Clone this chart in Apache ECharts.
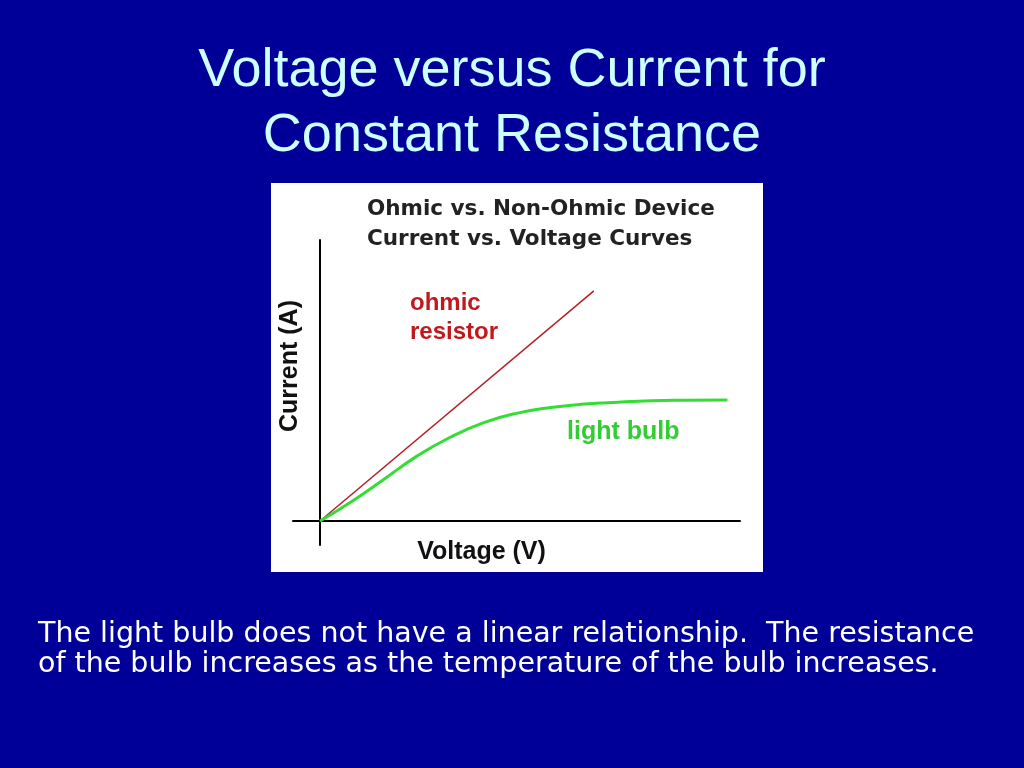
<!DOCTYPE html>
<html>
<head>
<meta charset="utf-8">
<script src="https://cdn.jsdelivr.net/npm/echarts@6/dist/echarts.min.js"></script>
<style>
  html, body { margin: 0; padding: 0; background: #000099; }
  #chart { width: 1024px; height: 768px; }
</style>
</head>
<body>
<div id="chart"></div>
<script>
// ohmic resistor: straight line through origin
const resistorV = [0, 65.2];
const resistorI = [0, 81.9];

// light bulb: bends over and levels off
const bulbV = [0, 7, 15, 23, 31, 39, 47, 55, 63, 71, 79, 87, 97];
const bulbI = [0, 6.4, 14.6, 23.0, 29.8, 35.0, 38.4, 40.4, 41.6, 42.3, 42.8, 43.0, 43.1];

const slideTitle = 'Voltage versus Current for\nConstant Resistance';
const chartTitle = 'Ohmic vs. Non-Ohmic Device\nCurrent vs. Voltage Curves';
const bodyText = 'The light bulb does not have a linear relationship.  The resistance\nof the bulb increases as the temperature of the bulb increases.';

const myChart = echarts.init(document.getElementById('chart'));

function pairs(xs, ys) {
    return xs.map((x, i) => [x, ys[i]]);
}

const option = {
    backgroundColor: '#000099',
    animation: false,
    graphic: [
        {
            type: 'rect',
            z: -10,
            shape: { x: 271, y: 183, width: 492, height: 389 },
            style: { fill: '#ffffff' }
        },
        {
            type: 'text',
            left: 410, top: 289,
            style: {
                text: 'ohmic\nresistor',
                fill: '#c0181c',
                font: 'bold 24px "Liberation Sans", Arial, sans-serif',
                lineHeight: 29
            }
        },
        {
            type: 'text',
            left: 567, top: 420,
            style: {
                text: 'light bulb',
                fill: '#33cc33',
                font: 'bold 25px "Liberation Sans", Arial, sans-serif'
            }
        }
    ],
    title: [
        {
            text: slideTitle,
            left: 'center',
            top: 34,
            textStyle: {
                color: '#ccffff',
                fontFamily: '"Liberation Sans", Arial, sans-serif',
                fontWeight: 'normal',
                fontSize: 54,
                lineHeight: 65
            }
        },
        {
            text: chartTitle,
            left: 362,
            top: 190,
            textStyle: {
                color: '#222222',
                fontFamily: '"DejaVu Sans", sans-serif',
                fontWeight: 'bold',
                fontSize: 21.5,
                lineHeight: 29.5
            }
        },
        {
            text: bodyText,
            left: 33,
            top: 615,
            textStyle: {
                color: '#ffffff',
                fontFamily: '"DejaVu Sans", sans-serif',
                fontWeight: 'normal',
                fontSize: 28.5,
                lineHeight: 30
            }
        }
    ],
    grid: {
        left: 293,
        right: 284,
        top: 240,
        bottom: 223
    },
    xAxis: {
        type: 'value',
        min: -6.43,
        max: 100,
        name: 'Voltage (V)',
        nameLocation: 'middle',
        nameGap: -5,
        nameTextStyle: {
            color: '#111111',
            fontFamily: '"Liberation Sans", Arial, sans-serif',
            fontWeight: 'bold',
            fontSize: 25,
            padding: [0, 70, 0, 0]
        },
        axisLine: { onZero: true, lineStyle: { color: '#000000', width: 2 } },
        axisTick: { show: false },
        axisLabel: { show: false },
        splitLine: { show: false }
    },
    yAxis: {
        type: 'value',
        min: -8.54,
        max: 100,
        name: 'Current (A)',
        nameLocation: 'middle',
        nameGap: -10,
        nameTextStyle: {
            color: '#111111',
            fontFamily: '"Liberation Sans", Arial, sans-serif',
            fontWeight: 'bold',
            fontSize: 25,
            padding: [0, 0, 0, 53]
        },
        axisLine: { onZero: true, lineStyle: { color: '#000000', width: 2 } },
        axisTick: { show: false },
        axisLabel: { show: false },
        splitLine: { show: false }
    },
    series: [
        {
            name: 'ohmic resistor',
            type: 'line',
            data: pairs(resistorV, resistorI),
            symbol: 'none',
            lineStyle: { color: '#b52025', width: 1.5 }
        },
        {
            name: 'light bulb',
            type: 'line',
            data: pairs(bulbV, bulbI),
            symbol: 'none',
            smooth: 0.5,
            lineStyle: { color: '#33dd33', width: 3 }
        }
    ]
};

myChart.setOption(option);
</script>
</body>
</html>
